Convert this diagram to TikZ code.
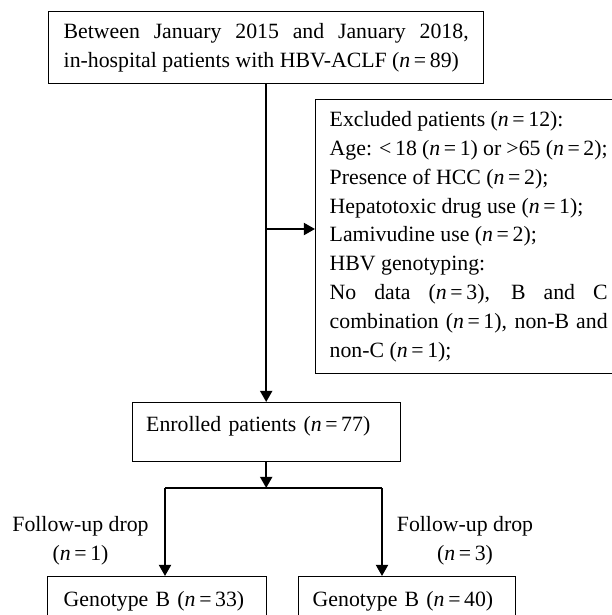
\documentclass[tikz,border=0pt]{standalone}
\usepackage{fontspec}
\setmainfont{Liberation Serif}
\usetikzlibrary{arrows.meta}
\newcommand{\ncnt}[1]{(\textit{n}\,=\,#1)}
\begin{document}
\begin{tikzpicture}[scale=0.25]
\tikzstyle{every node}+=[font=\fontsize{15.5}{20.5}\selectfont]
\tikzstyle{flowbox}=[draw, black, line width=1pt, anchor=north west, inner ysep=0pt]
\tikzstyle{flowline}=[black, line width=1.6pt]
\tikzstyle{flowarrow}=[flowline, -{Triangle[length=2.8mm,width=3mm]}]
\useasboundingbox (0,0) rectangle (61.2,-61.5);
\clip (0,0) rectangle (61.2,-61.5);
\node [flowbox, text width=10.125cm, inner xsep=0.375cm, minimum height=1.8cm, align=justify] (source) at (4.8,-1.1)
  {Between January 2015 and January 2018,\linebreak in-hospital patients with HBV-ACLF \ncnt{89}};
\node [flowbox, text width=6.95cm, inner xsep=0.35cm, minimum height=6.85cm, align=justify] (excluded) at (31.5,-9.9)
  {Excluded patients \ncnt{12}:\\
   Age: <\,18 \ncnt{1} or >65 \ncnt{2};\\
   Presence of HCC \ncnt{2};\\
   Hepatotoxic drug use \ncnt{1};\\
   Lamivudine use \ncnt{2};\\
   HBV genotyping:\\
   No data \ncnt{3}, B and C\linebreak combination \ncnt{1}, non-B and\linebreak non-C \ncnt{1};};
\node [flowbox, text width=6cm, inner xsep=0.35cm, minimum width=6.7cm, minimum height=1.475cm, text depth=0.43cm, align=left] (enrolled) at (13.15,-40.2)
  {Enrolled patients \ncnt{77}};
\node [flowbox, text width=4.675cm, inner xsep=0.4cm, minimum height=1.25cm, align=left] (genoB1) at (4.7,-57.6)
  {Genotype B \ncnt{33}};
\node [flowbox, text width=4.725cm, inner xsep=0.35cm, minimum height=1.25cm, align=left] (genoB2) at (29.8,-57.6)
  {Genotype B \ncnt{40}};
\node [align=center] (dropL) at (8.05,-54.1) {Follow-up drop\\\ncnt{1}};
\node [align=center] (dropR) at (46.5,-54.1) {Follow-up drop\\\ncnt{3}};
% main stream
\coordinate (split) at (26.55,-22.9);
\draw [flowarrow] (source.south) -- (source.south |- enrolled.north);
\draw [flowarrow] (split) -- (split -| excluded.west);
% split after enrolment
\coordinate (forkL) at (16.5,-48.8);
\coordinate (forkR) at (38.2,-48.8);
\draw [flowarrow] (enrolled.south) -- (enrolled.south |- forkL);
\draw [flowline] (forkL) -- (forkR);
\draw [flowarrow] (forkL) -- (forkL |- genoB1.north);
\draw [flowarrow] (forkR) -- (forkR |- genoB2.north);
\end{tikzpicture}
\end{document}
